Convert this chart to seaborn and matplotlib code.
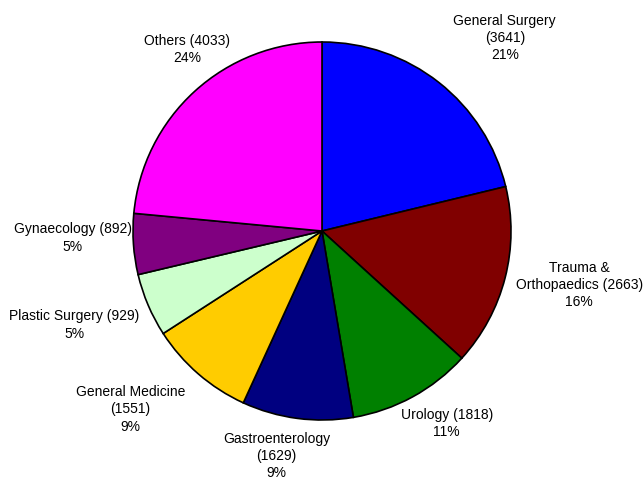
import numpy as np
import matplotlib
matplotlib.use("Agg")
import matplotlib.pyplot as plt
import seaborn as sns

# Data
specialties = ["General Surgery", "Trauma &\nOrthopaedics", "Urology", "Gastroenterology",
               "General Medicine", "Plastic Surgery", "Gynaecology", "Others"]
counts = [3641, 2663, 1818, 1629, 1551, 929, 892, 4033]
label_fmt = ["{name}\n({n})\n{p}%", "{name} ({n})\n{p}%", "{name} ({n})\n{p}%", "{name}\n({n})\n{p}%",
             "{name}\n({n})\n{p}%", "{name} ({n})\n{p}%", "{name} ({n})\n{p}%", "{name} ({n})\n{p}%"]
colors = ["#0000FF", "#800000", "#008000", "#000080", "#FFCC00", "#CCFFCC", "#800080", "#FF00FF"]

# Layout for labels (radius factor, angular tweak in degrees)
label_r = [1.41, 1.39, 1.21, 1.21, 1.38, 1.40, 1.32, 1.20]
label_dt = [-5.1, 2.7, 4.4, -3.9, -6.3, -2.5, -2.6, -5.9]

sns.set_theme(style="white")
plt.rcParams["font.family"] = ["Liberation Sans", "DejaVu Sans"]

W, H = 644, 481
fig = plt.figure(figsize=(W / 100, H / 100), dpi=100)
cx, cy, r = 322, 232, 189
ax = fig.add_axes([(cx - r) / W, (H - cy - r) / H, 2 * r / W, 2 * r / H])

palette = sns.color_palette(colors)
wedges, _ = ax.pie(counts, colors=palette, startangle=90, counterclock=False,
                   wedgeprops=dict(edgecolor="black", linewidth=1.2))
ax.set_xlim(-1, 1)
ax.set_ylim(-1, 1)
ax.set_aspect("equal")
ax.axis("off")

total = sum(counts)
for w, name, n, fmt, rf, dt in zip(wedges, specialties, counts, label_fmt, label_r, label_dt):
    mid = np.deg2rad((w.theta1 + w.theta2) / 2 + dt)
    pct = int(round(100 * n / total))
    ax.text(rf * np.cos(mid), rf * np.sin(mid), fmt.format(name=name, n=n, p=pct),
            ha="center", va="center", fontsize=10, linespacing=1.3, color="black",
            clip_on=False, zorder=10)

fig.savefig("out.png", dpi=100, facecolor="white")
